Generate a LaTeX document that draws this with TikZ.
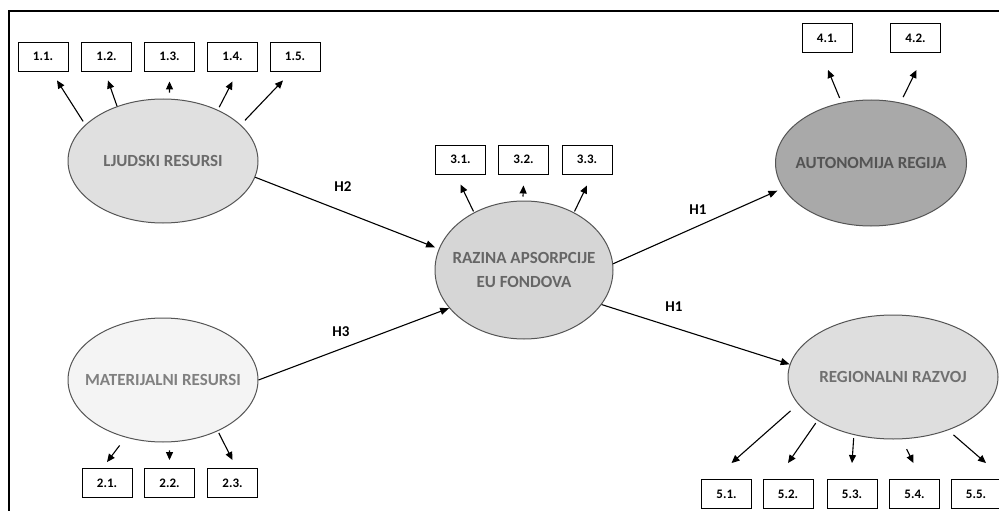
\documentclass[tikz,border=0pt]{standalone}
\usepackage{fontspec}
\setmainfont{Carlito}
\usetikzlibrary{calc}
\usetikzlibrary{shapes.geometric}
\usetikzlibrary{arrows.meta}
\definecolor{ellborder}{HTML}{555555}
\definecolor{ljfill}{HTML}{E0E0E0}
\definecolor{matfill}{HTML}{F4F4F4}
\definecolor{razfill}{HTML}{D6D6D6}
\definecolor{autfill}{HTML}{A9A9A9}
\definecolor{regfill}{HTML}{DEDEDE}
\tikzstyle{latent}=[ellipse, draw=ellborder, line width=1pt, inner xsep=-20pt, inner ysep=0pt, align=center, font=\fontsize{17}{24}\selectfont\bfseries]
\tikzstyle{item}=[rectangle, draw=black, fill=white, line width=0.9pt, minimum width=50pt, minimum height=29pt, inner sep=0pt, font=\fontsize{13}{15}\selectfont\bfseries]
\tikzstyle{hyp}=[-{Triangle[length=9pt,width=7pt]}, line width=1.1pt]
\tikzstyle{indicator}=[-{Triangle[length=8pt,width=7pt]}, line width=1.1pt]
\tikzstyle{hlabel}=[inner sep=0pt, font=\fontsize{15}{17}\selectfont\bfseries]
\newcommand{\indic}[4][0]{% Syntax: [gap] {start anchor} {box anchor} {offset from box}
  \draw[indicator, shorten <=#1pt] (#2) -- ($(#3)+(#4)$);
}

\begin{document}
\begin{tikzpicture}[x=1pt, y=-1pt]
\useasboundingbox (0,0) rectangle (999,511);
% frame
\draw[line width=1.3pt] (9,511) -- (9,11) -- (999,11);
% latent variables
\node[latent, fill=ljfill, text=black!58, minimum width=190pt, minimum height=124pt] (lj) at (163,161) {LJUDSKI RESURSI};
\node[latent, fill=matfill, text=black!50, minimum width=190pt, minimum height=124pt] (mat) at (163,380) {MATERIJALNI RESURSI};
\node[latent, fill=razfill, text=black!60, minimum width=178pt, minimum height=138pt] (raz) at (524,270) {RAZINA APSORPCIJE\\EU FONDOVA};
\node[latent, fill=autfill, text=black!67, minimum width=191pt, minimum height=126pt] (aut) at (871,163) {AUTONOMIJA REGIJA};
\node[latent, fill=regfill, text=black!56, minimum width=210pt, minimum height=124pt] (reg) at (893,377) {REGIONALNI RAZVOJ};
% indicator boxes
\foreach \i/\x in {1/43,2/106.5,3/169.5,4/232.5,5/295}
  \node[item] (b1\i) at (\x,56.5) {1.\i.};
\foreach \i/\x in {1/107,2/169.5,3/232.5}
  \node[item] (b2\i) at (\x,483) {2.\i.};
\foreach \i/\x in {1/460.5,2/523.5,3/587}
  \node[item] (b3\i) at (\x,159.5) {3.\i.};
\foreach \i/\x in {1/827,2/915.5}
  \node[item] (b4\i) at (\x,38) {4.\i.};
\foreach \i/\x in {1/726.5,2/788,3/852,4/914.5,5/976}
  \node[item] (b5\i) at (\x,494) {5.\i.};
% hypotheses
\draw[hyp, shorten >=4pt] (lj.-10) -- (raz.166);
\draw[hyp] (mat.0) -- (raz.207);
\draw[hyp, shorten >=6pt] (raz.4) -- (aut.196);
\draw[hyp] (raz.-24) -- (reg.173);
\node[hlabel] (h2) at (343,187) {H2};
\node[hlabel] (h3) at (341,332) {H3};
\node[hlabel] (h1a) at (698,210) {H1};
\node[hlabel] (h1b) at (674,307) {H1};
% indicators
\indic[4]{lj.155}{b11.south}{14,9}
\indic[0]{lj.130}{b12.south}{1.5,9}
\indic[6]{lj.84}{b13.south}{0,10}
\indic[3]{lj.43}{b14.south}{0,10}
\indic[6]{lj.25}{b15.south}{-12,9}
\indic[10]{mat.237}{b21.north}{0,-6}
\indic[8]{mat.276}{b22.north}{0,-8}
\indic[2]{mat.317}{b23.north}{0,-8}
\indic[1]{raz.131}{b31.south}{0,10}
\indic[4]{raz.91}{b32.south}{0,11}
\indic[1]{raz.49}{b33.south}{0,11}
\indic[5]{aut.116}{b41.south}{1,17}
\indic[6]{aut.64}{b42.south}{1,17}
\indic[10]{reg.196}{b51.north}{5,-16}
\indic[3]{reg.210}{b52.north}{0,-16}
\indic[3]{reg.236}{b53.north}{0,-16}
\indic[11]{reg.278}{b54.north}{-1,-16}
\indic[7]{reg.316}{b55.north}{10,-16}
\end{tikzpicture}
\end{document}
